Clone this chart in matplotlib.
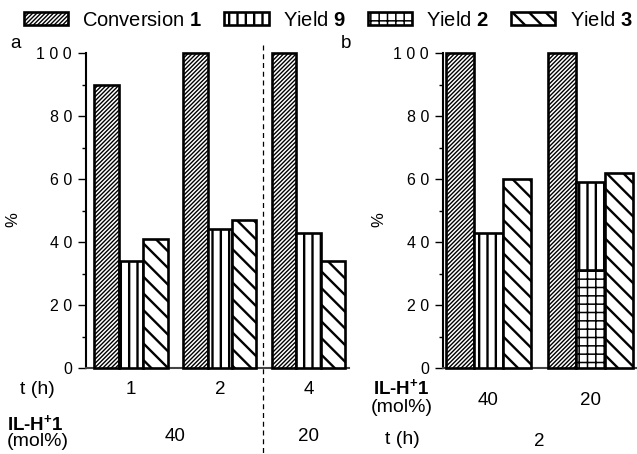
import numpy as np
import matplotlib
matplotlib.use('Agg')
import matplotlib.pyplot as plt
from matplotlib.patches import Patch

plt.rcParams['font.family'] = ['Liberation Sans', 'DejaVu Sans']
plt.rcParams['mathtext.fontset'] = 'custom'
plt.rcParams['mathtext.rm'] = 'Liberation Sans'
plt.rcParams['mathtext.bf'] = 'Liberation Sans:bold'
plt.rcParams['mathtext.it'] = 'Liberation Sans:italic'

# ---------------------------------------------------------------------------
# data
# ---------------------------------------------------------------------------
a_time = ['1', '2', '4']
a_il = ['40', '20']
a_conv = [90, 100, 100]
a_y9 = [34, 44, 43]
a_y3 = [41, 47, 34]

b_il = ['40', '20']
b_time = ['2']
b_conv = [100, 100]
b_y9 = [43, 59]      # top of the yield 9 bar
b_y2 = [0, 31]       # yield 2, drawn below yield 9
b_y3 = [60, 62]

yticks = [0, 20, 40, 60, 80, 100]
ytick_labels = ['0', '2 0', '4 0', '6 0', '8 0', '1 0 0']

# styles: (hatch, hatch linewidth)
ST_CONV = ('////////', 1.0)
ST_Y9 = ('||', 1.7)
ST_Y2 = ('++', 1.1)
ST_Y3 = ('\\\\', 1.7)
EDGE_LW = 1.9


def hbar(ax, x, h, w, style, bottom=0):
    hatch, hlw = style
    with plt.rc_context({'hatch.linewidth': hlw}):
        bars = ax.bar(x, h, w, bottom=bottom, color='white', edgecolor='black',
                      hatch=hatch, linewidth=EDGE_LW, clip_on=False, zorder=3)
    for b in bars:
        if hasattr(b, 'set_hatch_linewidth'):
            b.set_hatch_linewidth(hlw)
    return bars


def style_axis(ax):
    ax.set_ylim(0, 100)
    ax.spines[['top', 'right']].set_visible(False)
    ax.spines['left'].set_linewidth(1.5)
    ax.spines['bottom'].set_linewidth(1.5)
    ax.spines['bottom'].set_color('#444444')
    ax.set_yticks(yticks)
    ax.set_yticklabels(ytick_labels, fontsize=11.5)
    ax.set_yticks(np.arange(10, 100, 20), minor=True)
    ax.tick_params(axis='y', which='major', direction='out', length=6, width=1.0, pad=4)
    ax.tick_params(axis='y', which='minor', direction='out', length=3, width=1.0)
    ax.tick_params(axis='x', length=0)
    ax.set_xticks([])
    ax.set_ylabel('%', fontsize=12)


fig = plt.figure(figsize=(6.37, 4.54), dpi=100)

# ---------------------------------------------------------------------------
# panel a
# ---------------------------------------------------------------------------
axa = fig.add_axes([86 / 637, 86 / 454, 263 / 637, 315 / 454])
xa = np.arange(len(a_time))
wa = 0.275
hbar(axa, xa - wa, a_conv, wa, ST_CONV)
hbar(axa, xa, a_y9, wa, ST_Y9)
hbar(axa, xa + wa, a_y3, wa, ST_Y3)
axa.set_xlim(-0.507, 2.456)
style_axis(axa)
axa.yaxis.set_label_coords(-0.25, 0.47)
axa.plot([1.487, 1.487], [102.5, -27.3], ls='--', dashes=(4, 3), lw=0.9,
         c='k', clip_on=False, zorder=1)

tra = axa.get_xaxis_transform()
for x, t in zip(xa, a_time):
    axa.text(x, -0.067, t, transform=tra, ha='center', va='center', fontsize=13.5)
for x, t in zip([0.5, 2.0], a_il):
    axa.text(x, -0.219, t, transform=tra, ha='center', va='center', fontsize=13.5)

# ---------------------------------------------------------------------------
# panel b
# ---------------------------------------------------------------------------
axb = fig.add_axes([443 / 637, 86 / 454, 194 / 637, 315 / 454])
xb = np.arange(len(b_il))
wb = 0.2777
hbar(axb, xb - wb, b_conv, wb, ST_CONV)
hbar(axb, xb[1:], b_y2[1:], wb, ST_Y2)
hbar(axb, xb, np.array(b_y9) - np.array(b_y2), wb, ST_Y9, bottom=b_y2)
hbar(axb, xb + wb, b_y3, wb, ST_Y3)
axb.set_xlim(-0.446, 1.456)
style_axis(axb)
axb.yaxis.set_label_coords(-0.29, 0.47)

trb = axb.get_xaxis_transform()
for x, t in zip(xb, b_il):
    axb.text(x, -0.102, t, transform=trb, ha='center', va='center', fontsize=13.5)
axb.text(0.5, -0.232, b_time[0], transform=trb, ha='center', va='center', fontsize=13.5)

# ---------------------------------------------------------------------------
# row labels, panel letters
# ---------------------------------------------------------------------------
def ftext(px, py, s, **kw):
    fig.text(px / 637, 1 - py / 454, s, ha='center', va='center', **kw)


ftext(37, 389, 't (h)', fontsize=14)
ftext(35, 424, r'IL-H$^{\mathbf{+}}$1', fontweight='bold', fontsize=13.5)
ftext(38, 441, '(mol%)', fontsize=14)
ftext(401, 388, r'IL-H$^{\mathbf{+}}$1', fontweight='bold', fontsize=13.5)
ftext(402, 407, '(mol%)', fontsize=14)
ftext(402, 440, 't (h)', fontsize=14)
ftext(15, 43, 'a', fontsize=13.5)
ftext(346, 44, 'b', fontsize=13.5)

# ---------------------------------------------------------------------------
# legend
# ---------------------------------------------------------------------------
labels = [r'Conversion $\mathbf{1}$', r'Yield $\mathbf{9}$',
          r'Yield $\mathbf{2}$', r'Yield $\mathbf{3}$']
handles = []
for st in [ST_CONV, ST_Y9, ST_Y2, ST_Y3]:
    with plt.rc_context({'hatch.linewidth': st[1]}):
        p = Patch(facecolor='white', edgecolor='black', hatch=st[0], linewidth=EDGE_LW)
    handles.append(p)
leg = fig.legend(handles, labels, loc='center', bbox_to_anchor=(0.515, 0.955), ncol=4,
                 frameon=False, fontsize=14.5, handlelength=2.2, handleheight=0.6,
                 handletextpad=0.7, columnspacing=1.1, borderaxespad=0)
for p, st in zip(leg.get_patches(), [ST_CONV, ST_Y9, ST_Y2, ST_Y3]):
    if hasattr(p, 'set_hatch_linewidth'):
        p.set_hatch_linewidth(st[1])

fig.savefig('out.png', dpi=100)
